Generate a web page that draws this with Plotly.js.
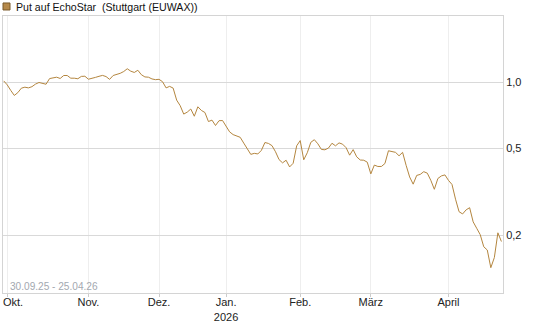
<!DOCTYPE html>
<html>
<head>
<meta charset="utf-8">
<script src="https://cdn.plot.ly/plotly-3.0.1.min.js"></script>
<style>html,body{margin:0;padding:0;background:#fff;}#chart{width:545px;height:327px;}</style>
</head>
<body>
<div id="chart"></div>
<script>
// Trading days (Stuttgart) from 30.09.25 to 24.04.26
const startDate = "2025-09-30";
const endDate = "2026-04-24";
const holidays = ["2025-12-24","2025-12-25","2025-12-26","2025-12-31","2026-01-01","2026-04-03","2026-04-06"];

// Closing values of the put warrant (EUR), one per trading day
const prices = [
  1.014, 0.972, 0.917, 0.870, 0.896, 0.939, 0.949, 0.942, 0.954, 0.980,
  0.997, 0.991, 0.979, 1.039, 1.044, 1.054, 1.040, 1.073, 1.073, 1.043,
  1.043, 1.037, 1.063, 1.065, 1.032, 1.046, 1.052, 1.064, 1.074, 1.061,
  1.030, 1.073, 1.082, 1.098, 1.119, 1.152, 1.123, 1.108, 1.134, 1.082,
  1.057, 1.054, 1.035, 1.027, 1.031, 1.005, 0.942, 0.957, 0.940, 0.828,
  0.781, 0.715, 0.730, 0.754, 0.699, 0.772, 0.743, 0.727, 0.661, 0.671,
  0.634, 0.667, 0.668, 0.626, 0.593, 0.576, 0.566, 0.560, 0.527, 0.496,
  0.468, 0.473, 0.470, 0.488, 0.530, 0.525, 0.513, 0.481, 0.443, 0.428,
  0.440, 0.410, 0.426, 0.512, 0.541, 0.442, 0.476, 0.531, 0.546, 0.523,
  0.493, 0.491, 0.500, 0.526, 0.512, 0.528, 0.521, 0.502, 0.464, 0.492,
  0.456, 0.441, 0.440, 0.431, 0.381, 0.418, 0.412, 0.412, 0.425, 0.486,
  0.481, 0.478, 0.461, 0.478, 0.417, 0.369, 0.342, 0.375, 0.379, 0.390,
  0.384, 0.356, 0.324, 0.363, 0.373, 0.377, 0.356, 0.341, 0.292, 0.256,
  0.250, 0.261, 0.267, 0.230, 0.215, 0.201, 0.177, 0.171, 0.142, 0.158,
  0.205, 0.187
];

const monthNames = ["Jan.","Feb.","März","April","Mai","Juni","Juli","Aug.","Sep.","Okt.","Nov.","Dez."];
const yTickValues = [0.2, 0.5, 1.0];
const yTickLabels = ["0,2", "0,5", "1,0"];
const seriesName = "Put auf EchoStar\u00a0\u00a0(Stuttgart (EUWAX))";
const rangeLabel = "30.09.25 - 25.04.26";

// Build trading-day list
function fmt(d){return d.toISOString().slice(0,10);}
const dates = [];
for (let d = new Date(startDate+"T00:00:00Z"); fmt(d) <= endDate; d.setUTCDate(d.getUTCDate()+1)) {
  const wd = d.getUTCDay();
  if (wd === 0 || wd === 6) continue;
  if (holidays.includes(fmt(d))) continue;
  dates.push(fmt(d));
}
const idx = dates.map((_, i) => i);

// month ticks at first trading day of each month
const tickvals = [], ticktext = [];
for (let i = 1; i < dates.length; i++) {
  if (dates[i].slice(0,7) !== dates[i-1].slice(0,7)) {
    const m = parseInt(dates[i].slice(5,7),10) - 1;
    let label = monthNames[m];
    if (m === 0) label += "<br>" + dates[i].slice(0,4);
    tickvals.push(i); ticktext.push(label);
  }
}
// first label sits at the very left edge: draw it as a left-anchored annotation so it is not cut off
const firstLabel = ticktext[0];
ticktext[0] = "";

const trace = {
  x: idx.slice(0, prices.length),
  y: prices,
  text: dates,
  type: "scatter",
  mode: "lines",
  line: {color: "#b4863f", width: 1},
  hoverinfo: "text+y",
  showlegend: false
};

const font = {family: "Liberation Sans, Arial, sans-serif", size: 11, color: "#222"};

const layout = {
  width: 545, height: 327,
  margin: {l: 3, r: 42, t: 16, b: 34, pad: 0},
  paper_bgcolor: "#fff", plot_bgcolor: "#fff",
  font: font,
  separators: ",.",
  showlegend: false,
  xaxis: {
    range: [-0.2, 141.45],
    tickvals: tickvals, ticktext: ticktext,
    tickfont: {family: font.family, size: 11, color: "#222"},
    ticks: "outside", ticklen: 3, tickcolor: "#cccccc",
    ticklabeloverflow: "allow",
    ticklabelstandoff: -4,
    showgrid: true, gridcolor: "#eeeeee", gridwidth: 1,
    showline: true, linecolor: "#d4d4d4", linewidth: 1, mirror: true,
    zeroline: false, fixedrange: true
  },
  yaxis: {
    type: "log",
    range: [Math.log10(0.1088), Math.log10(2.007)],
    side: "right",
    tickvals: yTickValues, ticktext: yTickLabels,
    tickfont: {family: font.family, size: 11, color: "#222"},
    ticks: "", ticklen: 0,
    showgrid: true, gridcolor: "#d9d9d9", gridwidth: 1,
    showline: true, linecolor: "#d4d4d4", linewidth: 1, mirror: true,
    zeroline: false, fixedrange: true
  },
  shapes: [{
    type: "rect", xref: "paper", yref: "paper",
    x0: 0.0, x1: 0.014, y0: 1.0217, y1: 1.047,
    fillcolor: "#b5894a", line: {color: "#7a5a2a", width: 1}
  }],
  annotations: [
    {
      xref: "paper", yref: "paper", x: 0.022, y: 1.0325,
      xanchor: "left", yanchor: "middle", showarrow: false,
      text: seriesName, font: {family: font.family, size: 10.6, color: "#111"}
    },
    {
      xref: "paper", yref: "paper", x: 0.009, y: 0.022,
      xanchor: "left", yanchor: "middle", showarrow: false,
      text: rangeLabel, font: {family: font.family, size: 10.1, color: "#a3a8b0"}
    },
    {
      xref: "paper", yref: "paper", x: -0.005, y: -0.0325,
      xanchor: "left", yanchor: "middle", showarrow: false,
      text: firstLabel, font: {family: font.family, size: 11, color: "#222"}
    }
  ]
};

Plotly.newPlot("chart", [trace], layout, {displayModeBar: false, staticPlot: true});
</script>
</body>
</html>
